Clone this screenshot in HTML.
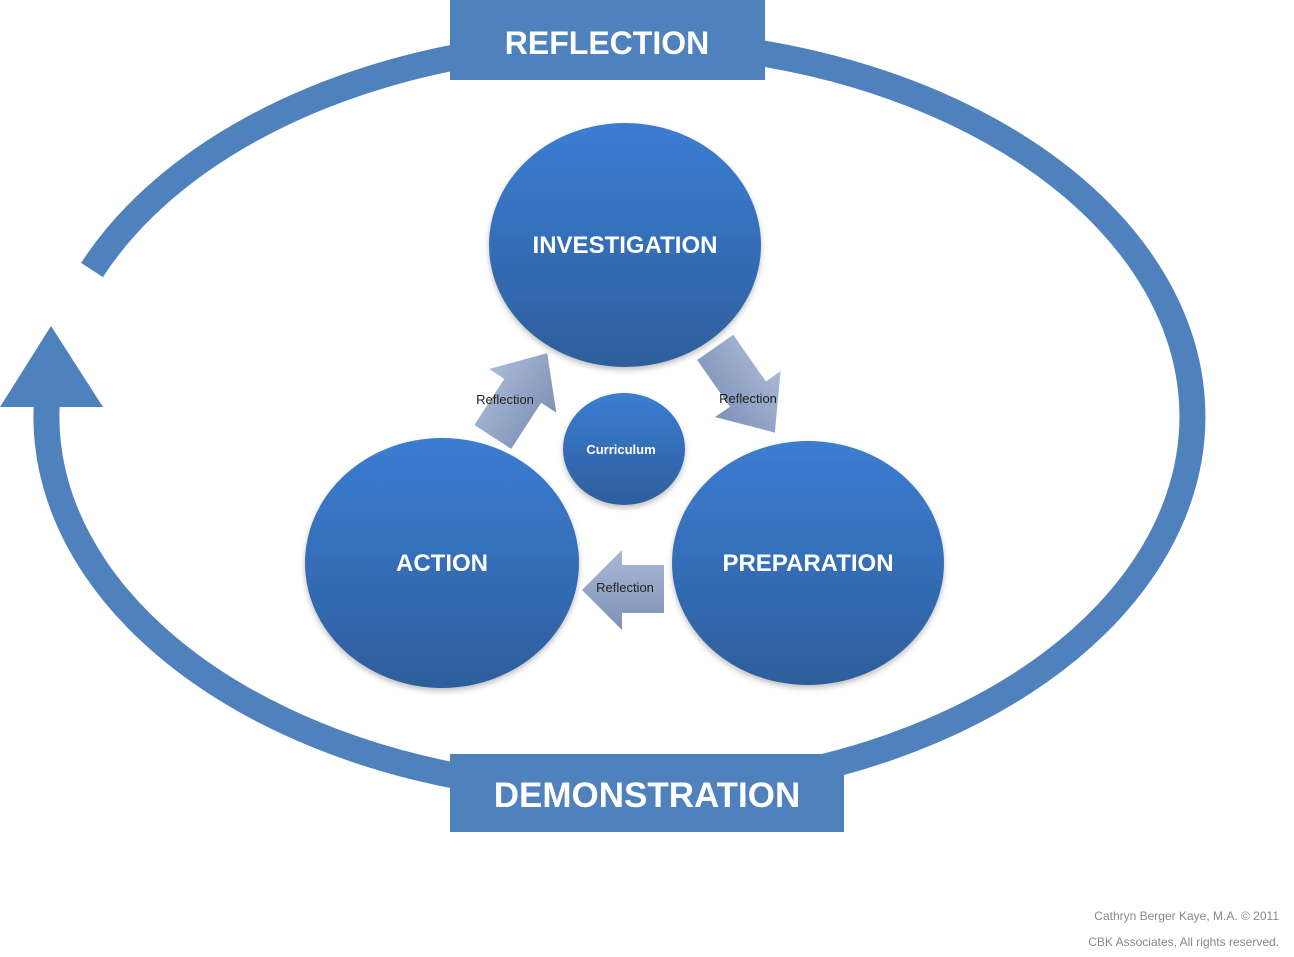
<!DOCTYPE html>
<html><head><meta charset="utf-8"><style>
html,body{margin:0;padding:0;background:#fff;}
svg{display:block;}
text{font-family:"Liberation Sans",sans-serif;}
</style></head><body>
<svg width="1294" height="957" viewBox="0 0 1294 957" xmlns="http://www.w3.org/2000/svg">
<defs>
<linearGradient id="cg" x1="0" y1="0" x2="0" y2="1">
<stop offset="0" stop-color="#3b7dd2"/><stop offset="1" stop-color="#2e5e9c"/>
</linearGradient>
<linearGradient id="ag" x1="0" y1="0" x2="0" y2="1">
<stop offset="0" stop-color="#a9b9d8"/><stop offset="1" stop-color="#7e91b5"/>
</linearGradient>
<filter id="sh" x="-20%" y="-20%" width="140%" height="140%"><feDropShadow dx="0" dy="3" stdDeviation="3" flood-color="#000" flood-opacity="0.25"/></filter>
</defs>
<path d="M 92 270 A 573 375 0 1 1 47 400" fill="none" stroke="#4f81bd" stroke-width="26"/>
<polygon points="0,407 103,407 51,326" fill="#4f81bd"/>
<rect x="450" y="0" width="315" height="80" fill="#4f81bd"/>
<text x="607" y="54" text-anchor="middle" font-size="32" font-weight="bold" fill="#fff">REFLECTION</text>
<rect x="450" y="754" width="394" height="78" fill="#4f81bd"/>
<text x="647" y="807" text-anchor="middle" font-size="35" font-weight="bold" fill="#fff">DEMONSTRATION</text>
<g filter="url(#sh)">
<ellipse cx="625" cy="245" rx="136" ry="122" fill="url(#cg)"/>
<ellipse cx="442" cy="563" rx="137" ry="125" fill="url(#cg)"/>
<ellipse cx="808" cy="563" rx="136" ry="122" fill="url(#cg)"/>
<ellipse cx="624" cy="449" rx="61" ry="56" fill="url(#cg)"/>
</g>
<text x="625" y="253" text-anchor="middle" font-size="24" font-weight="bold" fill="#fff">INVESTIGATION</text>
<text x="442" y="571" text-anchor="middle" font-size="24" font-weight="bold" fill="#fff">ACTION</text>
<text x="808" y="571" text-anchor="middle" font-size="24" font-weight="bold" fill="#fff">PREPARATION</text>
<text x="621" y="454" text-anchor="middle" font-size="13" font-weight="bold" fill="#fff">Curriculum</text>
<g transform="translate(520,395) rotate(-57)">
<polygon points="-50,-22 5,-22 5,-40 50,0 5,40 5,22 -50,22" fill="url(#ag)"/>
</g>
<g transform="translate(745,390) rotate(55)">
<polygon points="-52,-22 5,-22 5,-40 52,0 5,40 5,22 -52,22" fill="url(#ag)"/>
</g>
<polygon points="664,565 622,565 622,550 582,590 622,630 622,613 664,613" fill="url(#ag)"/>
<text x="505" y="404" text-anchor="middle" font-size="13" fill="#222">Reflection</text>
<text x="748" y="403" text-anchor="middle" font-size="13" fill="#222">Reflection</text>
<text x="625" y="592" text-anchor="middle" font-size="13" fill="#222">Reflection</text>
<text x="1279" y="920" text-anchor="end" font-size="12" fill="#888">Cathryn Berger Kaye, M.A. © 2011</text>
<text x="1279" y="946" text-anchor="end" font-size="12" fill="#888">CBK Associates, All rights reserved.</text>
</svg>
</body></html>
